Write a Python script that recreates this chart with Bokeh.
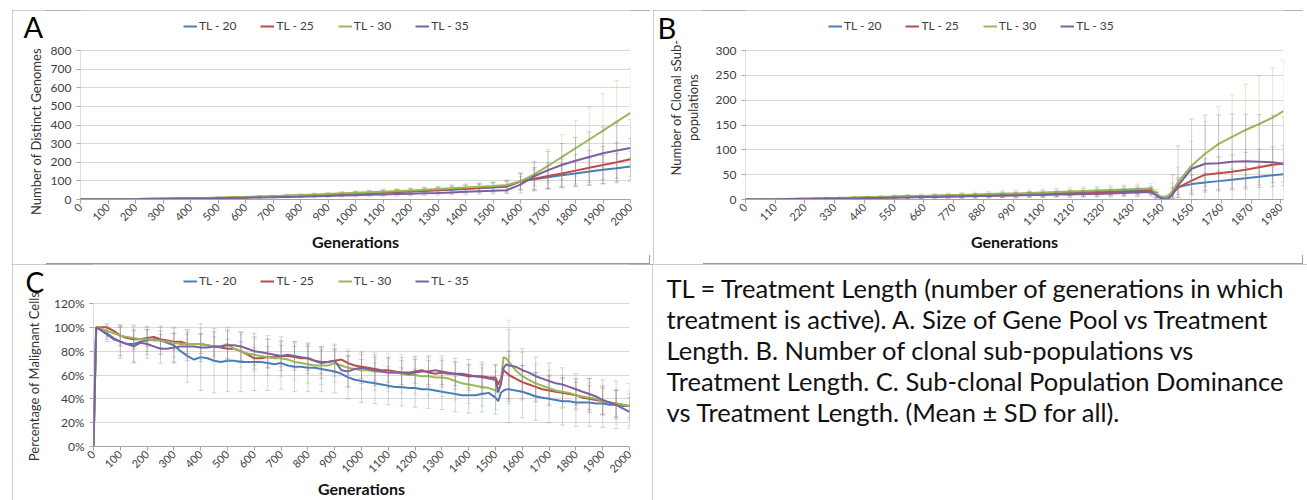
from math import pi

from bokeh.core.properties import value
from bokeh.embed import file_html
from bokeh.layouts import column, row
from bokeh.models import (FixedTicker, Label, Legend, LegendItem,
                          PrintfTickFormatter, Range1d, Spacer)
from bokeh.plotting import figure
from bokeh.resources import INLINE

SERIES = ["TL - 20", "TL - 25", "TL - 30", "TL - 35"]
COLORS = ["#4A7EBB", "#BE4B48", "#98B954", "#7D60A0"]
FONT = "Lato"

# ---- A: number of distinct genomes (sampled every 50 generations) ----
A_GEN = list(range(0, 2001, 50))
A_TL20 = [1, 1, 2, 2, 3, 3, 4, 5, 6, 7, 8, 10, 12, 14, 16, 18, 20, 22, 25, 28, 31, 34, 37, 40, 43, 46,
          49, 53, 57, 61, 65, 69, 97, 108, 120, 130, 140, 150, 160, 168, 177]
A_TL25 = [1, 1, 2, 2, 3, 4, 4, 5, 6, 7, 9, 10, 12, 14, 16, 18, 21, 23, 26, 29, 32, 35, 38, 41, 44, 47,
          51, 55, 59, 63, 67, 72, 96, 112, 126, 140, 155, 170, 185, 200, 216]
A_TL30 = [1, 1, 2, 3, 3, 4, 5, 6, 7, 8, 10, 12, 14, 16, 18, 21, 24, 27, 30, 33, 36, 39, 42, 45, 48, 52,
          56, 60, 64, 68, 72, 78, 98, 135, 180, 228, 275, 322, 370, 418, 465]
A_TL35 = [1, 1, 1, 2, 2, 3, 3, 4, 5, 6, 7, 8, 9, 11, 12, 14, 15, 17, 19, 21, 23, 25, 27, 29, 31, 33,
          35, 38, 41, 44, 47, 50, 80, 125, 158, 185, 208, 228, 248, 263, 277]
A_SD20 = [0, 0, 1, 1, 1, 1, 2, 2, 2, 3, 3, 4, 4, 5, 5, 6, 6, 7, 8, 9, 10, 11, 12, 13, 14, 15,
          16, 18, 20, 22, 25, 30, 45, 55, 60, 64, 68, 72, 76, 79, 82]
A_SD25 = [0, 0, 1, 1, 1, 1, 2, 2, 2, 3, 3, 4, 4, 5, 5, 6, 6, 7, 8, 9, 10, 11, 12, 13, 14, 15,
          16, 18, 19, 21, 23, 27, 45, 60, 70, 78, 86, 94, 100, 105, 110]
A_SD30 = [0, 0, 1, 1, 1, 1, 2, 2, 2, 3, 3, 4, 4, 5, 5, 6, 7, 8, 9, 10, 11, 12, 13, 14, 15, 16,
          17, 19, 20, 22, 24, 28, 40, 60, 90, 120, 150, 175, 200, 220, 240]
A_SD35 = [0, 0, 0, 1, 1, 1, 1, 2, 2, 2, 3, 3, 3, 4, 4, 5, 5, 6, 6, 7, 8, 8, 9, 10, 10, 11,
          12, 13, 14, 15, 16, 18, 45, 80, 100, 115, 125, 135, 142, 148, 152]
A_XTICKS = list(range(0, 2001, 100))
A_YTICKS = list(range(0, 801, 100))

# ---- B: number of clonal sub-populations ----
B_GEN = list(range(0, 1501, 50)) + [1520, 1540, 1560, 1580] + list(range(1600, 1951, 50)) + [1990]
B_TL20 = [0, 0, 1, 1, 1, 2, 2, 3, 3, 4, 5, 5, 6, 6, 7, 7, 8, 8, 9, 10, 10, 11, 12, 13, 14, 15, 16, 17,
          18, 19, 19, 10, 3, 5, 15, 25, 31, 34, 37, 40, 43, 46, 49, 51]
B_TL25 = [0, 0, 0, 1, 1, 1, 2, 2, 3, 3, 4, 4, 5, 5, 6, 6, 7, 7, 8, 8, 9, 10, 10, 11, 12, 12, 13, 14,
          15, 16, 17, 9, 2, 3, 12, 24, 38, 50, 53, 56, 60, 65, 70, 72]
B_TL30 = [0, 0, 1, 1, 2, 2, 3, 3, 4, 5, 5, 6, 7, 7, 8, 9, 9, 10, 11, 12, 12, 13, 14, 15, 16, 17, 18, 19,
          20, 21, 22, 12, 4, 4, 18, 35, 68, 92, 112, 126, 140, 152, 165, 178]
B_TL35 = [0, 0, 0, 1, 1, 1, 2, 2, 2, 3, 3, 4, 4, 5, 5, 6, 6, 7, 7, 8, 8, 9, 9, 10, 10, 11, 11, 12,
          13, 14, 15, 8, 2, 0, 10, 28, 62, 72, 73, 76, 77, 76, 75, 72]
B_SD20 = [0, 0, 1, 1, 1, 1, 1, 2, 2, 2, 2, 3, 3, 3, 3, 4, 4, 4, 4, 5, 5, 5, 6, 6, 6, 7, 7, 7,
          8, 8, 8, 6, 3, 4, 10, 15, 18, 19, 20, 21, 22, 22, 23, 23]
B_SD25 = [0, 0, 0, 1, 1, 1, 1, 1, 2, 2, 2, 2, 3, 3, 3, 3, 3, 4, 4, 4, 4, 5, 5, 5, 5, 6, 6, 6,
          7, 7, 7, 5, 2, 3, 10, 20, 28, 32, 33, 34, 35, 36, 36, 37]
B_SD30 = [0, 0, 1, 1, 1, 1, 2, 2, 2, 2, 3, 3, 3, 4, 4, 4, 5, 5, 5, 6, 6, 6, 7, 7, 8, 8, 8, 9,
          9, 10, 10, 8, 4, 4, 15, 30, 50, 65, 75, 85, 92, 97, 100, 102]
B_SD35 = [0, 0, 0, 1, 1, 1, 1, 1, 2, 2, 2, 2, 3, 3, 3, 3, 4, 4, 4, 4, 5, 5, 5, 5, 6, 6, 6, 7,
          7, 8, 8, 6, 2, 1, 40, 80, 100, 98, 97, 96, 95, 95, 95, 95]
B_XTICKS = list(range(0, 1981, 110))
B_YTICKS = list(range(0, 301, 50))

# ---- C: percentage of malignant cells ----
C_GEN = [0, 10] + list(range(25, 1501, 25)) + [1510, 1520, 1530, 1540] + list(range(1550, 2001, 25))
C_TL20 = [0, 100, 98, 95, 91, 88, 86, 86, 88, 89,
          90, 89, 87, 85, 80, 76, 73, 75, 74, 72,
          71, 72, 72, 71, 71, 71, 71, 70, 69, 70,
          68, 67, 67, 66, 66, 65, 64, 63, 61, 58,
          56, 55, 54, 53, 52, 51, 50, 50, 49, 49,
          48, 48, 47, 46, 45, 44, 43, 43, 43, 44,
          45, 41, 38, 45, 47, 48,
          48, 47, 46, 44, 42, 41, 40, 39, 38, 38, 37, 37, 37, 36, 36, 35, 35, 34, 34]
C_TL25 = [0, 100, 100, 100, 97, 93, 91, 90, 90, 91,
          92, 90, 89, 88, 88, 86, 86, 86, 85, 84,
          83, 82, 82, 80, 77, 74, 74, 75, 75, 76,
          76, 75, 74, 74, 72, 71, 71, 72, 73, 70,
          68, 67, 66, 65, 64, 64, 63, 62, 62, 63,
          64, 62, 61, 62, 61, 61, 60, 59, 59, 59,
          58, 58, 52, 57, 64, 62,
          60, 57, 54, 52, 50, 48, 47, 46, 45, 44, 43, 41, 40, 39, 38, 37, 36, 35, 34]
C_TL30 = [0, 100, 99, 97, 95, 93, 92, 91, 90, 90,
          89, 89, 88, 87, 86, 86, 86, 86, 85, 84,
          84, 86, 82, 80, 78, 77, 76, 75, 74, 74,
          73, 71, 70, 69, 68, 68, 68, 70, 68, 66,
          65, 64, 64, 63, 63, 62, 62, 61, 60, 60,
          59, 59, 58, 58, 57, 55, 53, 52, 51, 50,
          49, 47, 45, 55, 75, 74,
          71, 64, 59, 56, 53, 51, 49, 47, 46, 45, 43, 42, 41, 40, 38, 37, 36, 35, 34]
C_TL35 = [0, 100, 98, 94, 90, 88, 86, 84, 87, 86,
          84, 82, 82, 83, 84, 84, 84, 83, 83, 84,
          84, 85, 85, 84, 82, 80, 79, 78, 77, 76,
          77, 76, 75, 74, 72, 70, 71, 72, 64, 63,
          65, 66, 65, 64, 63, 62, 62, 62, 61, 62,
          63, 63, 64, 63, 62, 61, 61, 60, 59, 58,
          57, 56, 46, 52, 66, 69,
          68, 67, 64, 62, 59, 57, 55, 53, 52, 50, 48, 46, 44, 42, 39, 37, 35, 32, 29]
C_SD_GEN = list(range(0, 2001, 50))
C_SD20 = [0, 5, 14, 16, 12, 12, 15, 22, 28, 27, 26, 25, 24, 23, 22, 21, 20, 19, 18, 18, 18,
          17, 16, 16, 16, 16, 15, 15, 15, 15, 14, 28, 22, 20, 20, 20, 20, 20, 20, 20, 19]
C_SD25 = [0, 3, 8, 8, 7, 7, 7, 8, 8, 8, 8, 8, 9, 9, 9, 9, 10, 10, 10, 10, 10,
          10, 10, 10, 10, 10, 10, 10, 10, 10, 10, 20, 14, 12, 12, 12, 11, 11, 11, 11, 10]
C_SD30 = [0, 5, 9, 10, 10, 11, 12, 12, 13, 13, 14, 14, 14, 15, 15, 15, 16, 16, 16, 16, 16,
          16, 16, 16, 16, 16, 16, 16, 16, 16, 16, 35, 20, 16, 15, 14, 13, 13, 12, 12, 12]
C_SD35 = [0, 6, 12, 13, 12, 12, 12, 12, 12, 12, 12, 12, 12, 12, 12, 12, 13, 13, 13, 13, 13,
          13, 13, 13, 13, 13, 13, 13, 13, 13, 13, 30, 18, 16, 15, 14, 13, 13, 12, 12, 12]
C_XTICKS = list(range(0, 2001, 100))
C_YTICKS = list(range(0, 121, 20))

CAPTION = [
    "TL = Treatment Length (number of generations in which",
    "treatment is active). A. Size of Gene Pool vs Treatment",
    "Length. B. Number of clonal sub-populations vs",
    "Treatment Length. C. Sub-clonal Population Dominance",
    "vs Treatment Length. (Mean \u00b1 SD for all).",
]

BOX = {"outline": "1px solid #9a9a9a", "outline-offset": "-1px"}


def blank(w, h):
    """A bare canvas whose data units are pixels measured from its top-left corner."""
    p = figure(frame_width=w, frame_height=h, min_border=0, output_backend="svg",
               toolbar_location=None, x_range=Range1d(0, w), y_range=Range1d(h, 0),
               x_axis_location=None, y_axis_location=None)
    p.grid.visible = False
    p.outline_line_color = None
    return p


def panel(frame_w, frame_h, left, right, bottom, x_end, y_top, y_headroom, xticks, yticks):
    # the frame runs up to the top of the panel so the legend can sit above the top gridline
    p = figure(frame_width=frame_w, frame_height=frame_h, output_backend="svg",
               toolbar_location=None, x_range=Range1d(0, x_end),
               y_range=Range1d(0, y_top * frame_h / (frame_h - y_headroom)),
               min_border_left=left, min_border_right=right,
               min_border_top=0, min_border_bottom=bottom)
    p.outline_line_color = None
    p.xgrid.grid_line_color = None
    p.ygrid.grid_line_color = "#d9d9d9"
    p.ygrid.ticker = FixedTicker(ticks=yticks)
    p.xaxis.ticker = FixedTicker(ticks=xticks)
    p.yaxis.ticker = FixedTicker(ticks=yticks)
    p.xaxis.major_label_orientation = pi / 4
    for ax in (p.xaxis, p.yaxis):
        ax.axis_line_color = "#a6a6a6"
        ax.major_tick_line_color = "#a6a6a6"
        ax.major_tick_in = 0
        ax.major_tick_out = 4
        ax.minor_tick_line_color = None
        ax.major_label_text_font = FONT
        ax.major_label_text_color = "#404040"
    # the value axis line only spans the tick range, not the legend headroom
    p.yaxis.axis_line_color = None
    p.segment(x0=[0], y0=[yticks[0]], x1=[0], y1=[yticks[-1]], line_color="#bfbfbf", line_width=1)
    p.yaxis.major_label_text_font_size = "12px"
    p.yaxis.major_label_standoff = 5
    p.xaxis.major_label_text_font_size = "11px"
    p.xaxis.major_label_standoff = 2
    p.xaxis.axis_label = "Generations"
    p.xaxis.axis_label_text_font = FONT
    p.xaxis.axis_label_text_font_style = "bold"
    p.xaxis.axis_label_text_font_size = "16px"
    p.xaxis.axis_label_text_color = "#111111"
    p.xaxis.axis_label_standoff = 0
    return p


def series(p, gens, mean, sd, color, sd_gens=None):
    sg = gens if sd_gens is None else sd_gens
    m = [mean[gens.index(g)] for g in sg]
    lo = [v - s for v, s in zip(m, sd)]
    hi = [v + s for v, s in zip(m, sd)]
    p.segment(x0=sg, y0=lo, x1=sg, y1=hi, line_color=color, line_alpha=0.3, line_width=1)
    p.scatter(x=sg + sg, y=lo + hi, marker="dash", size=5, line_color=color, line_alpha=0.3)
    return p.line(gens, mean, line_color=color, line_width=2)


def legend(p, renderers, x, y):
    items = [LegendItem(label=s, renderers=[r]) for s, r in zip(SERIES, renderers)]
    p.add_layout(Legend(items=items, location=(x, y), orientation="horizontal",
                        glyph_width=14, glyph_height=12, label_standoff=2, spacing=24,
                        padding=0, margin=0, border_line_color=None, background_fill_alpha=0,
                        label_text_font=FONT, label_text_font_size="12px",
                        label_text_color="#404040", label_height=12))


def letter(p, text, x, y, size="29px"):
    p.add_layout(Label(x=x, y=y, text=text, text_font=FONT, text_font_size=size,
                       text_color="#000000", text_baseline="alphabetic"))


def ytitle(p, text, x, y):
    p.add_layout(Label(x=x, y=y, text=text, angle=pi / 2, text_align="center",
                       text_baseline="middle", text_font=FONT, text_font_size="13px",
                       text_color="#333333"))


# Panel A
sA = blank(34, 254)
letter(sA, "A", 11, 16)
ytitle(sA, "Number of Distinct Genomes", 23, 121)
pA = panel(550, 189, 34, 20, 56, 2000, 800, 40, A_XTICKS, A_YTICKS)
rA = [series(pA, A_GEN, m, s, c) for m, s, c in
      zip([A_TL20, A_TL25, A_TL30, A_TL35], [A_SD20, A_SD25, A_SD30, A_SD35], COLORS)]
legend(pA, rA, 103, 166)

# Panel B
sB = blank(50, 254)
letter(sB, "B", 4, 17)
ytitle(sB, "Number of Clonal sSub-", 22, 97)
ytitle(sB, "populations", 39, 97)
pB = panel(538, 189, 42, 20, 56, 1990, 300, 40, B_XTICKS, B_YTICKS)
rB = [series(pB, B_GEN, m, s, c) for m, s, c in
      zip([B_TL20, B_TL25, B_TL30, B_TL35], [B_SD20, B_SD25, B_SD30, B_SD35], COLORS)]
legend(pB, rB, 83, 166)

# Panel C
sC = blank(33, 236)
letter(sC, "C", 13, 17, "28px")
ytitle(sC, "Percentage of Malignant Cells", 21, 112)
pC = panel(536, 182, 48, 23, 54, 2000, 120, 39, C_XTICKS, C_YTICKS)
pC.yaxis.formatter = PrintfTickFormatter(format="%d%%")
rC = [series(pC, C_GEN, m, s, c, C_SD_GEN) for m, s, c in
      zip([C_TL20, C_TL25, C_TL30, C_TL35], [C_SD20, C_SD25, C_SD30, C_SD35], COLORS)]
legend(pC, rC, 90, 158)

# Caption box
pT = blank(655, 236)
pT.text(x=[14] * len(CAPTION), y=[23 + 31 * i for i in range(len(CAPTION))], text=CAPTION,
        text_font=value(FONT), text_font_size="25.5px", text_color="#111111",
        text_baseline="alphabetic")

boxA = row(sA, column(pA, Spacer(width=604, height=9)), styles=BOX)
boxB = row(sB, column(pB, Spacer(width=600, height=9)), styles=BOX)
boxC = row(sC, pC, styles=BOX)
boxT = row(pT, styles=BOX)

layout = column(
    Spacer(width=1307, height=10),
    row(Spacer(width=12, height=254), boxA, Spacer(width=3, height=254), boxB),
    row(Spacer(width=12, height=236), boxC, boxT),
)

open("out.html", "w").write(file_html(layout, INLINE))
